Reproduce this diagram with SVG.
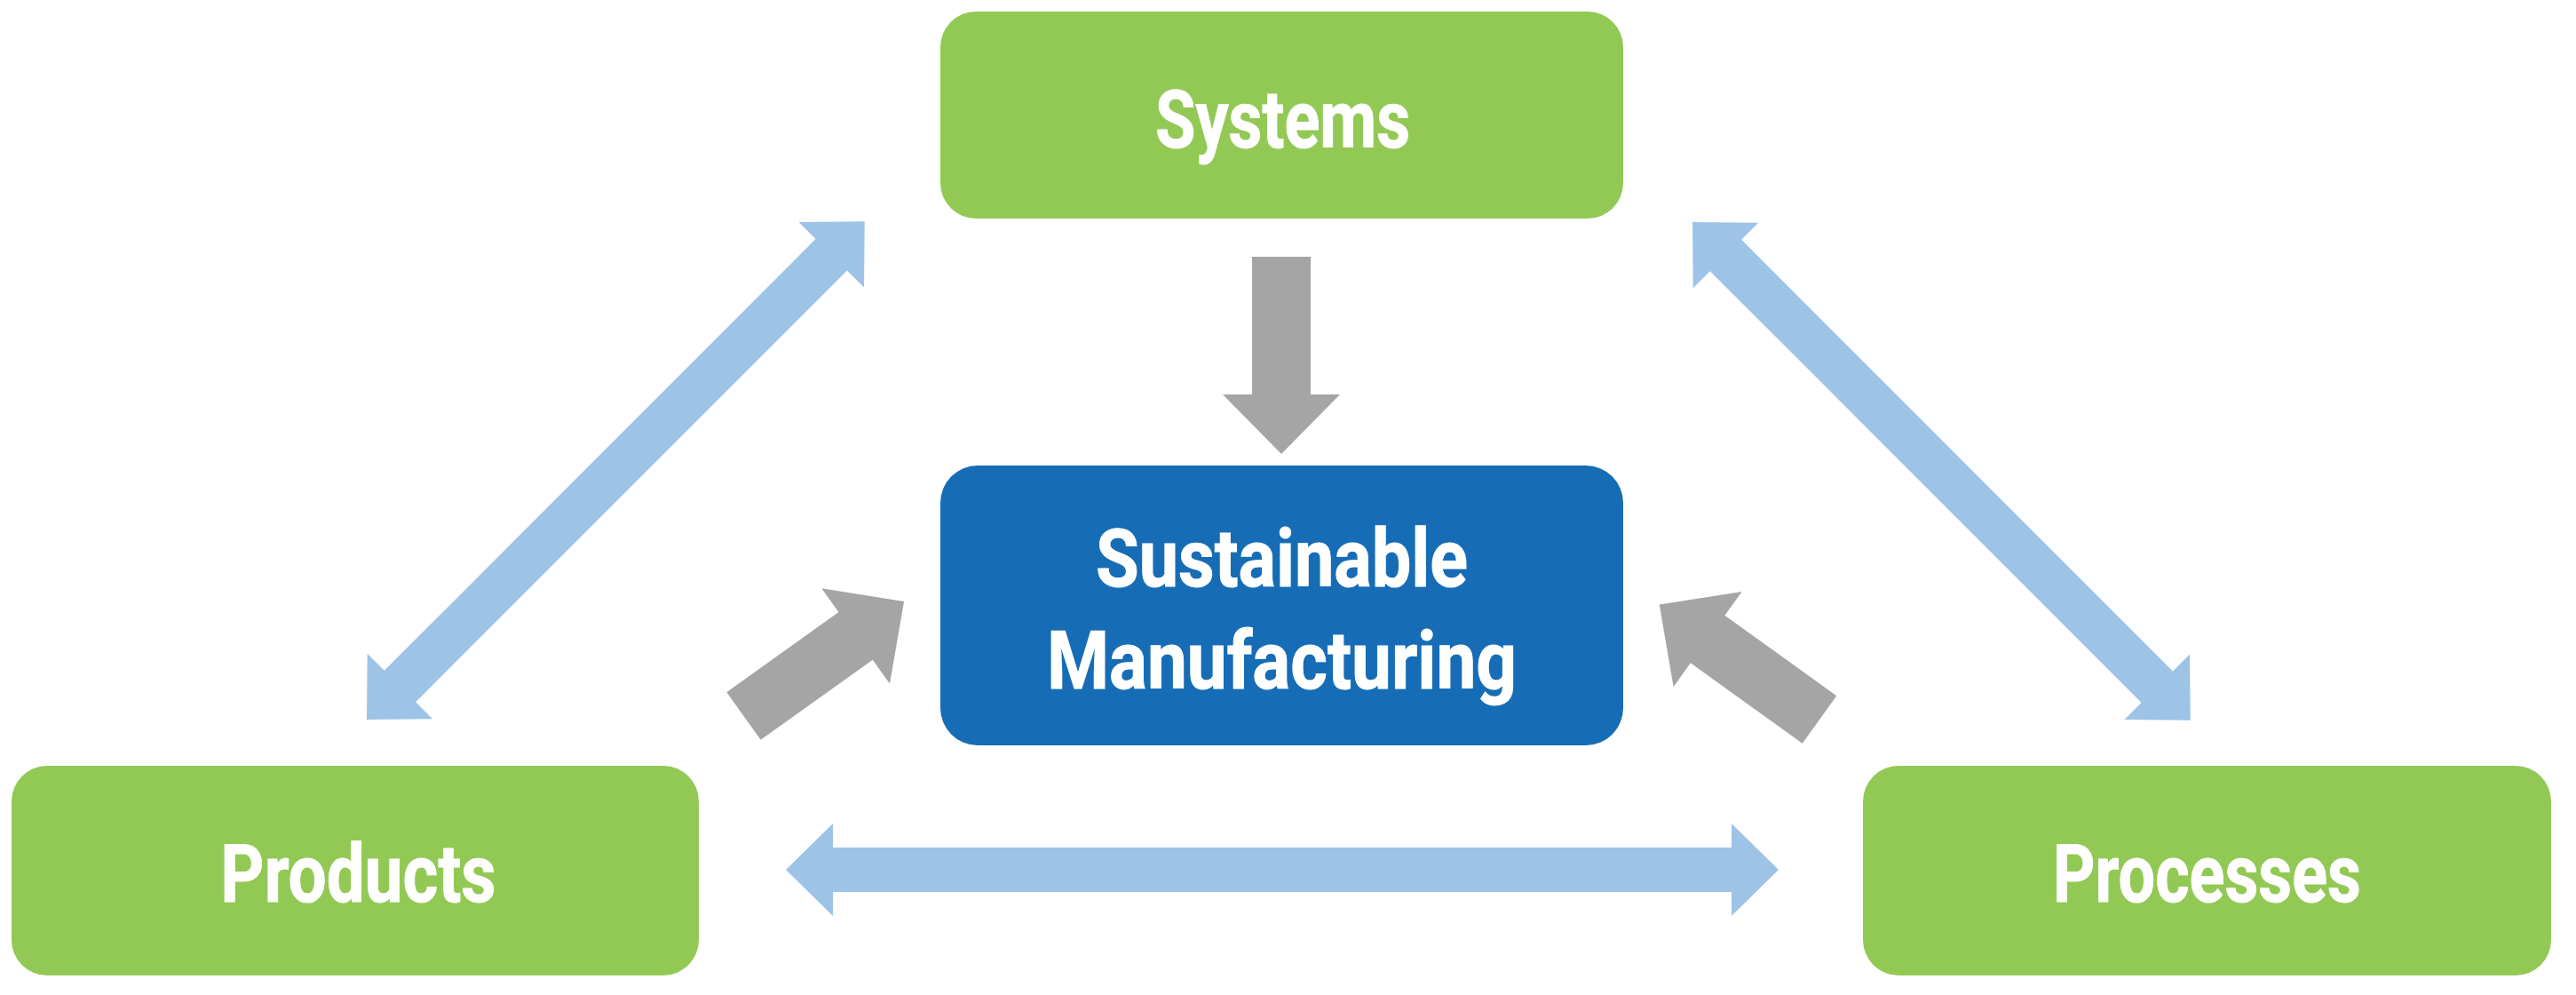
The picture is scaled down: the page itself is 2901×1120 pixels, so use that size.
<svg xmlns="http://www.w3.org/2000/svg" xmlns:xlink="http://www.w3.org/1999/xlink" width="2901" height="1120" viewBox="0 0 2901 1120">
  <style>
    .green { fill: #92C955; }
    .blue { fill: #166DB5; }
    .lbl { fill: #FFFFFF; stroke: #FFFFFF; stroke-width: 1px; font-family: Roboto, "Liberation Sans", sans-serif; font-weight: bold; font-size: 90px; text-anchor: middle; }
    .link { fill: #9DC3E6; }
    .push { fill: #A5A5A5; }
  </style>
  <defs>
    <polygon id="grayArrow" points="0,-33 155,-33 155,-66 222,0 155,66 155,33 0,33"/>
  </defs>
  <rect width="2901" height="1120" fill="#FFFFFF"/>

  <g id="connectors">
    <polygon class="link" points="0,0 53,-52 53,-25 1065,-25 1065,-52 1118,0 1065,52 1065,25 53,25 53,52" transform="translate(885,979)"/>
    <polygon class="link" points="0,0 53,-52 53,-25 740,-25 740,-52 793,0 740,52 740,25 53,25 53,52" transform="translate(413,810) rotate(-45)"/>
    <polygon class="link" points="0,0 53,-52 53,-25 740,-25 740,-52 793,0 740,52 740,25 53,25 53,52" transform="translate(1906,250) rotate(45)"/>
    <use xlink:href="#grayArrow" class="push" transform="translate(1443,289) rotate(90)"/>
    <use xlink:href="#grayArrow" class="push" transform="translate(837.5,806) rotate(-35.55)"/>
    <use xlink:href="#grayArrow" class="push" transform="translate(2049,810) rotate(-144.3)"/>
  </g>

  <g id="systems">
    <rect class="green" x="1059" y="13" width="769" height="233" rx="40" ry="40"/>
    <text class="lbl" transform="translate(1444.5,166) scale(0.82,1)">Systems</text>
  </g>

  <g id="sustainable-manufacturing">
    <rect class="blue" x="1059" y="524" width="769" height="315" rx="42" ry="42"/>
    <text class="lbl" transform="translate(1443.5,660) scale(0.88,1)">Sustainable</text>
    <text class="lbl" transform="translate(1443.5,775) scale(0.89,1)">Manufacturing</text>
  </g>

  <g id="products">
    <rect class="green" x="13" y="862" width="774" height="236" rx="40" ry="40"/>
    <text class="lbl" transform="translate(403.5,1015) scale(0.85,1)">Products</text>
  </g>

  <g id="processes">
    <rect class="green" x="2098" y="862" width="775" height="236" rx="40" ry="40"/>
    <text class="lbl" transform="translate(2485.5,1015) scale(0.82,1)">Processes</text>
  </g>
</svg>
